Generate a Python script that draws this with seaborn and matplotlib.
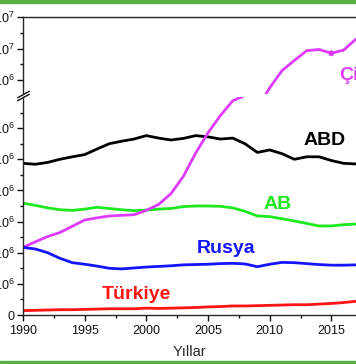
import matplotlib
matplotlib.use("Agg")
import pandas as pd
import seaborn as sns
from matplotlib import pyplot as plt
from matplotlib.patches import Rectangle
from matplotlib.ticker import MultipleLocator, FixedLocator, FuncFormatter

# CO2 emissions (kt), in units of 1e6
years = list(range(1990, 2018))
abd = [4.87, 4.84, 4.90, 5.00, 5.08, 5.15, 5.33, 5.50, 5.58, 5.65, 5.76, 5.68, 5.62, 5.67,
       5.76, 5.72, 5.65, 5.68, 5.50, 5.22, 5.30, 5.18, 5.00, 5.08, 5.08, 4.96, 4.87, 4.85]
ab = [3.59, 3.52, 3.44, 3.38, 3.36, 3.40, 3.46, 3.42, 3.38, 3.35, 3.37, 3.40, 3.42, 3.48,
      3.50, 3.50, 3.49, 3.44, 3.33, 3.18, 3.16, 3.09, 3.02, 2.94, 2.86, 2.86, 2.90, 2.92]
cin = [2.17, 2.35, 2.52, 2.65, 2.85, 3.05, 3.12, 3.18, 3.20, 3.22, 3.36, 3.55, 3.90, 4.45,
       5.20, 5.85, 6.40, 6.88, 7.05, 8.10, 8.75, 9.30, 9.62, 9.93, 9.97, 9.85, 9.95, 10.30]
rusya = [2.17, 2.12, 2.00, 1.82, 1.68, 1.63, 1.57, 1.50, 1.48, 1.51, 1.54, 1.56, 1.58, 1.61,
         1.62, 1.63, 1.65, 1.66, 1.64, 1.55, 1.63, 1.69, 1.68, 1.65, 1.62, 1.60, 1.60, 1.61]
turkiye = [0.14, 0.15, 0.16, 0.17, 0.17, 0.18, 0.19, 0.20, 0.20, 0.20, 0.22, 0.21, 0.22, 0.23,
           0.24, 0.26, 0.27, 0.29, 0.29, 0.30, 0.31, 0.32, 0.33, 0.33, 0.35, 0.37, 0.40, 0.44]

countries = ["ABD", "AB", "Çin", "Rusya", "Türkiye"]
colors = {"ABD": "#000000", "AB": "#1ee81e", "Çin": "#dd3cff",
          "Rusya": "#1414ff", "Türkiye": "#ff1414"}

series = dict(zip(countries, [abd, ab, cin, rusya, turkiye]))
df = pd.concat([pd.DataFrame({"Yil": years, "CO2": [v * 1e6 for v in vals], "Ulke": name})
                for name, vals in series.items()], ignore_index=True)

sns.set_style("ticks")
plt.rcParams["font.family"] = ["Liberation Sans", "DejaVu Sans"]
plt.rcParams["axes.linewidth"] = 1.0


def sci_label(v, pos):
    if abs(v) < 1:
        return "0"
    mant, exp = f"{v:.1e}".split("e")
    return rf"$\mathregular{{{mant}\times10^{{{int(exp)}}}}}$"


fig = plt.figure(figsize=(3.56, 3.64), dpi=100)
left = 23 / 356
ax_top = fig.add_axes([left, (364 - 94) / 364, 1 - left, 77 / 364])
ax_bot = fig.add_axes([left, (364 - 315) / 364, 1 - left, 218 / 364])

# lower panel: all countries
sns.lineplot(data=df, x="Yil", y="CO2", hue="Ulke", palette=colors, hue_order=countries,
             ax=ax_bot, legend=False, linewidth=2.0)
# upper panel: only China goes that high
df_cin = df[df["Ulke"] == "Çin"]
sns.lineplot(data=df_cin, x="Yil", y="CO2", color=colors["Çin"], ax=ax_top,
             legend=False, linewidth=2.0)
sns.scatterplot(data=df_cin[df_cin["Yil"] == 2015], x="Yil", y="CO2", color=colors["Çin"],
                s=18, edgecolor="none", ax=ax_top, legend=False)

for ax in (ax_top, ax_bot):
    ax.set_xlim(1990, 2017)
    ax.set_xlabel("")
    ax.set_ylabel("")
    ax.spines["right"].set_visible(False)
    ax.tick_params(axis="both", which="major", direction="out", length=4, width=1,
                   labelsize=9, pad=2, colors="#111111")
    ax.tick_params(axis="both", which="minor", direction="out", length=2, width=1,
                   colors="#111111")

ax_bot.set_ylim(0, 7.0e6)
ax_bot.yaxis.set_major_locator(FixedLocator([i * 1e6 for i in range(7)]))
ax_bot.yaxis.set_minor_locator(FixedLocator([i * 1e6 + 5e5 for i in range(7)]))
ax_bot.yaxis.set_major_formatter(FuncFormatter(sci_label))
ax_bot.xaxis.set_major_locator(MultipleLocator(5))
ax_bot.xaxis.set_minor_locator(MultipleLocator(2.5))
ax_bot.spines["top"].set_visible(False)
ax_bot.tick_params(axis="x", which="major", pad=3)
ax_bot.set_xlabel("Yıllar", fontsize=10.5, labelpad=6)

ax_top.set_ylim(8.556e6, 1.1e7)
ax_top.yaxis.set_major_locator(FixedLocator([9e6, 1e7, 1.1e7]))
ax_top.yaxis.set_minor_locator(FixedLocator([9.5e6, 1.05e7]))
ax_top.yaxis.set_major_formatter(FuncFormatter(sci_label))
ax_top.spines["bottom"].set_visible(False)
ax_top.tick_params(axis="x", which="both", bottom=False, labelbottom=False)

# axis break marks
brk = dict(marker=[(-1, -0.55), (1, 0.55)], markersize=9, linestyle="none",
           color="#111111", mec="#111111", mew=1.0, clip_on=False)
ax_top.plot([0], [0], transform=ax_top.transAxes, **brk)
ax_bot.plot([0], [1], transform=ax_bot.transAxes, **brk)

# country labels
lab = dict(fontsize=14, fontweight="bold", ha="center", va="baseline")
ax_bot.text(2014.43, 5.46e6, "ABD", color=colors["ABD"], **lab)
ax_bot.text(2010.68, 3.39e6, "AB", color=colors["AB"], **lab)
ax_bot.text(2006.45, 2.0e6, "Rusya", color=colors["Rusya"], **lab)
ax_bot.text(1999.2, 0.5e6, "Türkiye", color=colors["Türkiye"], **lab)
ax_top.text(2015.65, 9.0e6, "Çin", color=colors["Çin"], fontsize=14, fontweight="bold",
            ha="left", va="baseline")

# green frame strips of the source image
green = "#5cb043"
fig.add_artist(Rectangle((0, 1 - 2.5 / 364), 1, 2.5 / 364, transform=fig.transFigure,
                         color=green, zorder=10))
fig.add_artist(Rectangle((0, 0), 1, 3 / 364, transform=fig.transFigure,
                         color=green, zorder=10))

fig.savefig("out.png", dpi=100)
